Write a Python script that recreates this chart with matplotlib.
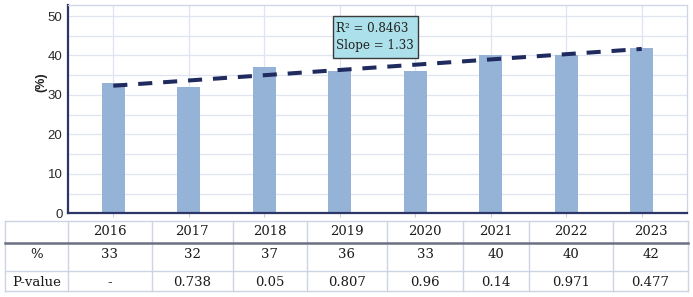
import numpy as np
import matplotlib
matplotlib.use("Agg")
import matplotlib.pyplot as plt
from matplotlib.lines import Line2D
from matplotlib.patches import Rectangle

# ---- data ----
years = ["2016", "2017", "2018", "2019", "2020", "2021", "2022", "2023"]
bar_values = [33, 32, 37, 36, 36, 40, 40, 42]
pct_labels = ["33", "32", "37", "36", "33", "40", "40", "42"]
p_values = ["-", "0.738", "0.05", "0.807", "0.96", "0.14", "0.971", "0.477"]
row_labels = ["%", "P-value"]
r2_text = "R\u00b2 = 0.8463"
slope_text = "Slope = 1.33"

W, H = 693, 297
fig = plt.figure(figsize=(W / 100, H / 100), dpi=100)

def fx(px):
    return px / W

def fy(py):
    return 1 - py / H

# ---- axes ----
ax_l, ax_r, ax_t, ax_b = 68, 687, 5, 213.3
ax = fig.add_axes([fx(ax_l), fy(ax_b), fx(ax_r - ax_l), (ax_b - ax_t) / H])
x = np.arange(len(years))
ax.bar(x, bar_values, width=0.31, color="#95b3d7", zorder=2)

coef = np.polyfit(x, bar_values, 1)
ax.plot(x, np.polyval(coef, x), color="#1f2a5e", lw=2.9,
        dashes=(3.5, 2.7), solid_capstyle="butt", zorder=3)

ax.set_xlim(-0.6, 7.6)
ax.set_ylim(0, 52.8)
ax.set_yticks(np.arange(0, 51, 10))
ax.set_yticks(np.arange(0, 51, 5), minor=True)
ax.set_xticks(x)
ax.set_xticklabels([])
ax.grid(True, which="both", axis="y", color="#dfe4f0", lw=0.9, zorder=0)
ax.grid(True, axis="x", color="#dfe4f0", lw=0.9, zorder=0)
ax.tick_params(axis="y", which="both", length=0, pad=4, labelsize=9.5,
               labelcolor="#2a2a2a")
ax.tick_params(axis="x", length=3, color="#c8cfdf", width=0.8)
for lab in ax.get_yticklabels():
    lab.set_fontfamily("Liberation Sans")
for s in ["top", "right"]:
    ax.spines[s].set_color("#cdd4e4")
    ax.spines[s].set_linewidth(0.9)
for s in ["left", "bottom"]:
    ax.spines[s].set_color("#2b3566")
    ax.spines[s].set_linewidth(1.6)

fig.text(fx(41), fy(82), "(%)", rotation=90, ha="center", va="center",
         fontsize=9, fontweight="bold", family="Liberation Sans", color="#222222")

# ---- annotation box ----
fig.add_artist(Rectangle((fx(333), fy(58)), fx(418 - 333), (58 - 16) / H,
                         transform=fig.transFigure, facecolor="#ace0ea",
                         edgecolor="#3a3a3a", lw=1.0, zorder=5))
fig.text(fx(336), fy(28), r2_text, ha="left", va="center", fontsize=8.6,
         family="DejaVu Serif", color="#222222", zorder=6)
fig.text(fx(336), fy(46), slope_text, ha="left", va="center", fontsize=8.6,
         family="DejaVu Serif", color="#222222", zorder=6)

# ---- table ----
col_edges = [5, 67.7, 151.7, 233, 307, 387, 463, 529, 613, 688]
row_edges = [221, 243, 271, 291]
grid_col = "#cdd4e4"
for cx in col_edges:
    fig.add_artist(Line2D([fx(cx), fx(cx)], [fy(row_edges[0]), fy(row_edges[-1])],
                          transform=fig.transFigure, color=grid_col, lw=1.0))
for i, ry in enumerate(row_edges):
    if i == 1:
        fig.add_artist(Line2D([fx(col_edges[0]), fx(col_edges[-1])], [fy(ry), fy(ry)],
                              transform=fig.transFigure, color="#6b7182", lw=1.8))
    else:
        fig.add_artist(Line2D([fx(col_edges[0]), fx(col_edges[-1])], [fy(ry), fy(ry)],
                              transform=fig.transFigure, color=grid_col, lw=1.0))

tfont = dict(fontsize=9.5, family="DejaVu Serif", color="#1a1a1a",
             ha="center", va="center")
row_text_y = [231.5, 254, 283]
for j, yr in enumerate(years):
    cxm = (col_edges[j + 1] + col_edges[j + 2]) / 2
    fig.text(fx(cxm), fy(row_text_y[0]), yr, **tfont)
    fig.text(fx(cxm), fy(row_text_y[1]), pct_labels[j], **tfont)
    fig.text(fx(cxm), fy(row_text_y[2]), p_values[j], **tfont)
hx = (col_edges[0] + col_edges[1]) / 2
fig.text(fx(hx), fy(row_text_y[1]), row_labels[0], **tfont)
fig.text(fx(hx), fy(row_text_y[2]), row_labels[1], **tfont)

fig.savefig("out.png", dpi=100)
